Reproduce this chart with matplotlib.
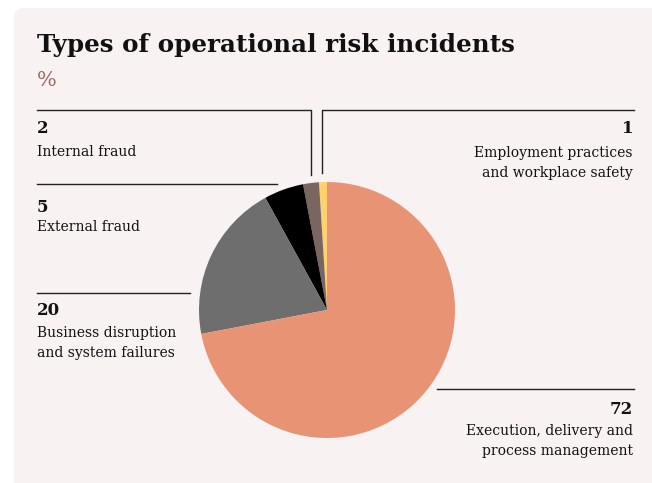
import matplotlib
matplotlib.use("Agg")
import matplotlib.pyplot as plt
from matplotlib.patches import FancyBboxPatch

# data, counter-clockwise from 12 o'clock
categories = ["Employment practices\nand workplace safety",
              "Internal fraud",
              "External fraud",
              "Business disruption\nand system failures",
              "Execution, delivery and\nprocess management"]
values = [1, 2, 5, 20, 72]
colors = ["#FFD26E", "#7A6561", "#000000", "#6E6E6E", "#E89474"]

W, H = 652, 483
fig = plt.figure(figsize=(W / 100, H / 100), dpi=100)
fig.patch.set_facecolor("white")

# canvas axes in pixel coordinates
bg = fig.add_axes([0, 0, 1, 1])
bg.set_xlim(0, W)
bg.set_ylim(H, 0)
bg.axis("off")
bg.add_patch(FancyBboxPatch((14, 8), 660, 500, boxstyle="round,pad=0,rounding_size=10",
                            fc="#F8F2F2", ec="none"))

serif = "DejaVu Serif"
bg.text(37, 52, "Types of operational risk incidents", fontsize=17.7, fontweight="bold",
        family=serif, color="#111111", va="baseline")
bg.text(37, 86, "%", fontsize=15, family=serif, color="#9C6B66", va="baseline")

# leader lines
lc = "#222222"
bg.plot([37, 311, 311], [109.5, 109.5, 175], color=lc, lw=1)
bg.plot([634, 322, 322], [109.5, 109.5, 173], color=lc, lw=1)
bg.plot([37, 277], [184, 184], color=lc, lw=1)
bg.plot([37, 190], [292.5, 292.5], color=lc, lw=1)
bg.plot([437, 634], [389, 389], color=lc, lw=1)

# labels: (value index, x, number baseline, first text baseline, align)
label_pos = [(1, 37, 133, 156, "left"), (0, 633, 133, 157, "right"),
             (2, 37, 212, 231, "left"), (3, 37, 315, 337, "left"),
             (4, 633, 414, 435, "right")]
for i, x, yn, yt, ha in label_pos:
    bg.text(x, yn, str(values[i]), fontsize=12, fontweight="bold", family=serif,
            color="#111111", ha=ha, va="baseline")
    for k, line in enumerate(categories[i].split("\n")):
        bg.text(x, yt + 19.5 * k, line, fontsize=10, family=serif, color="#111111",
                ha=ha, va="baseline")

# pie centred at (327, 310), radius 128 px
cx, cy, r = 327, 310, 128
ax = fig.add_axes([(cx - r) / W, (H - cy - r) / H, 2 * r / W, 2 * r / H])
ax.pie(values, colors=colors, startangle=90, counterclock=True, radius=1,
       wedgeprops=dict(linewidth=0))
ax.set_xlim(-1, 1)
ax.set_ylim(-1, 1)
ax.axis("off")

fig.savefig("out.png", dpi=100, facecolor="white")
